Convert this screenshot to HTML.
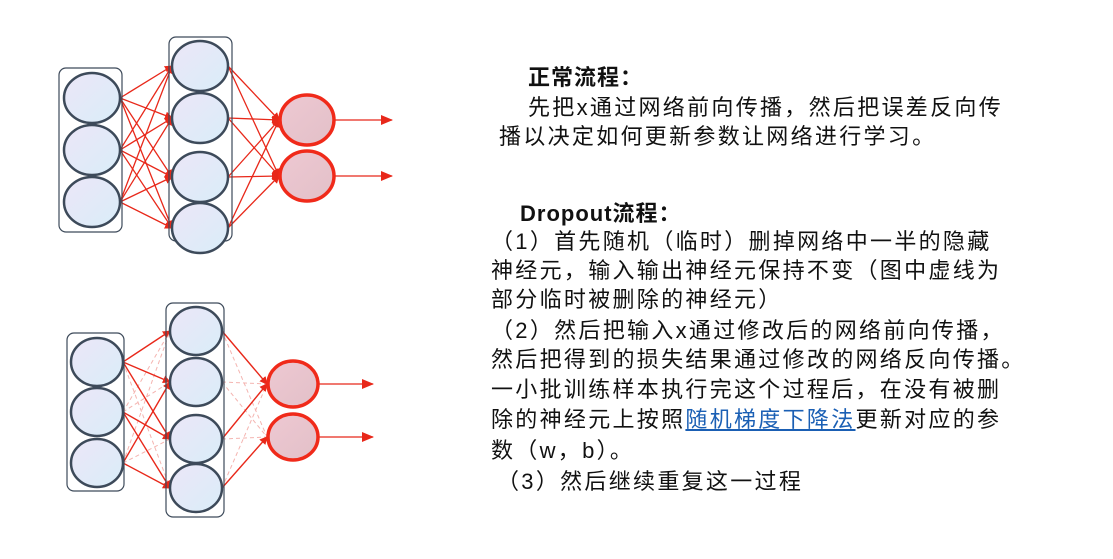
<!DOCTYPE html>
<html><head><meta charset="utf-8"><style>
body{margin:0;background:#fff;width:1113px;height:559px;overflow:hidden;position:relative;font-family:"Liberation Sans","Noto Sans CJK SC",sans-serif;}
.t{position:absolute;white-space:nowrap;font-size:22px;letter-spacing:2.3px;color:#111;line-height:26px;}
.b{font-weight:bold;letter-spacing:1px;}
a{color:#1a5fb4;text-decoration:underline;}
svg{position:absolute;left:0;top:0}
</style></head><body>
<svg width="1113" height="559">
<defs>
<linearGradient id="g" x1="0" y1="0" x2="1" y2="1"><stop offset="0" stop-color="#ece6f7"/><stop offset="1" stop-color="#d9edf9"/></linearGradient>
<linearGradient id="r" x1="0" y1="0" x2="1" y2="1"><stop offset="0" stop-color="#eec8d2"/><stop offset="1" stop-color="#e2c0c8"/></linearGradient>
<marker id="a" markerWidth="8" markerHeight="8" refX="7" refY="4" orient="auto" markerUnits="userSpaceOnUse"><path d="M0,0 L8,4 L0,8z" fill="#e8281a"/></marker>
<marker id="ab" markerWidth="12" markerHeight="10" refX="11" refY="5" orient="auto" markerUnits="userSpaceOnUse"><path d="M0,0 L12,5 L0,10z" fill="#e8281a"/></marker>
</defs>
<g stroke="#e8281a" stroke-width="1.3" fill="none" marker-end="url(#a)">
<path d="M120 98L172 66"/><path d="M120 98L172 118"/><path d="M120 98L172 177"/><path d="M120 98L172 228"/>
<path d="M120 150L172 66"/><path d="M120 150L172 118"/><path d="M120 150L172 177"/><path d="M120 150L172 228"/>
<path d="M120 202L172 66"/><path d="M120 202L172 118"/><path d="M120 202L172 177"/><path d="M120 202L172 228"/>
<path d="M228 66L279 120"/><path d="M228 66L279 176"/><path d="M228 118L279 120"/><path d="M228 118L279 176"/>
<path d="M228 177L279 120"/><path d="M228 177L279 176"/><path d="M228 228L279 120"/><path d="M228 228L279 176"/>
</g>
<g stroke="#e8281a" stroke-width="1.3" fill="none" marker-end="url(#ab)">
<path d="M335 120L392 120"/><path d="M335 176L392 176"/>
<path d="M319 384L373 384"/><path d="M319 437L373 437"/>
</g>
<g stroke="#f4b4b0" stroke-width="1" fill="none" stroke-dasharray="4,3">
<path d="M123 362L170 488M123 412L170 331M123 412L170 382M123 463L170 331M123 463L170 439"/>
<path d="M222 331L267 437M222 382L267 384M222 382L267 437M222 439L267 437M222 488L267 384"/>
</g>
<g stroke="#e8281a" stroke-width="1.4" fill="none" marker-end="url(#a)">
<path d="M123 362L170 331"/><path d="M123 362L170 382"/><path d="M123 362L170 439"/><path d="M123 412L170 439"/><path d="M123 412L170 488"/><path d="M123 463L170 382"/><path d="M123 463L170 488"/>
<path d="M222 331L267 384"/><path d="M222 439L267 384"/><path d="M222 488L267 437"/>
</g>
<rect x="59" y="68" width="63" height="164" rx="7" fill="none" stroke="#3d4a5a" stroke-width="1.2"/>
<rect x="169" y="37" width="63" height="204" rx="7" fill="none" stroke="#3d4a5a" stroke-width="1.2"/>
<g fill="url(#g)" stroke="#3d4a5a" stroke-width="2.5">
<ellipse cx="92" cy="98" rx="28" ry="25"/><ellipse cx="92" cy="150" rx="28" ry="25"/><ellipse cx="92" cy="202" rx="28" ry="25"/>
<ellipse cx="200" cy="66" rx="28" ry="25"/><ellipse cx="200" cy="118" rx="28" ry="25"/><ellipse cx="200" cy="177" rx="28" ry="25"/><ellipse cx="200" cy="228" rx="28" ry="25"/>
</g>
<g fill="url(#r)" stroke="#f02a1a" stroke-width="3.5">
<ellipse cx="307" cy="120" rx="27" ry="25"/><ellipse cx="307" cy="176" rx="27" ry="25"/>
</g>
<rect x="67" y="333" width="57" height="158" rx="7" fill="none" stroke="#3d4a5a" stroke-width="1.2"/>
<rect x="166" y="303" width="58" height="214" rx="7" fill="none" stroke="#3d4a5a" stroke-width="1.2"/>
<g fill="url(#g)" stroke="#3d4a5a" stroke-width="2.5">
<ellipse cx="97" cy="362" rx="26" ry="24"/><ellipse cx="97" cy="412" rx="26" ry="24"/><ellipse cx="97" cy="463" rx="26" ry="24"/>
<ellipse cx="196" cy="331" rx="26" ry="24"/><ellipse cx="196" cy="382" rx="26" ry="24"/><ellipse cx="196" cy="439" rx="26" ry="24"/><ellipse cx="196" cy="488" rx="26" ry="24"/>
</g>
<g fill="url(#r)" stroke="#f02a1a" stroke-width="3.5">
<ellipse cx="293" cy="384" rx="25" ry="23"/><ellipse cx="293" cy="437" rx="25" ry="23"/>
</g>
</svg>
<div class="t b" style="left:528px;top:65px">正常流程：</div>
<div class="t" style="left:528px;top:95px">先把x通过网络前向传播，然后把误差反向传</div>
<div class="t" style="left:499px;top:124px">播以决定如何更新参数让网络进行学习。</div>
<div class="t b" style="left:520px;top:201px">Dropout流程：</div>
<div class="t" style="left:491px;top:229px">（1）首先随机（临时）删掉网络中一半的隐藏</div>
<div class="t" style="left:491px;top:258px">神经元，输入输出神经元保持不变（图中虚线为</div>
<div class="t" style="left:491px;top:287px">部分临时被删除的神经元）</div>
<div class="t" style="left:491px;top:318px">（2）然后把输入x通过修改后的网络前向传播，</div>
<div class="t" style="left:491px;top:347px">然后把得到的损失结果通过修改的网络反向传播。</div>
<div class="t" style="left:491px;top:377px">一小批训练样本执行完这个过程后，在没有被删</div>
<div class="t" style="left:491px;top:407px">除的神经元上按照<a>随机梯度下降法</a>更新对应的参</div>
<div class="t" style="left:491px;top:438px">数（w，b）。</div>
<div class="t" style="left:497px;top:469px">（3）然后继续重复这一过程</div>
</body></html>
